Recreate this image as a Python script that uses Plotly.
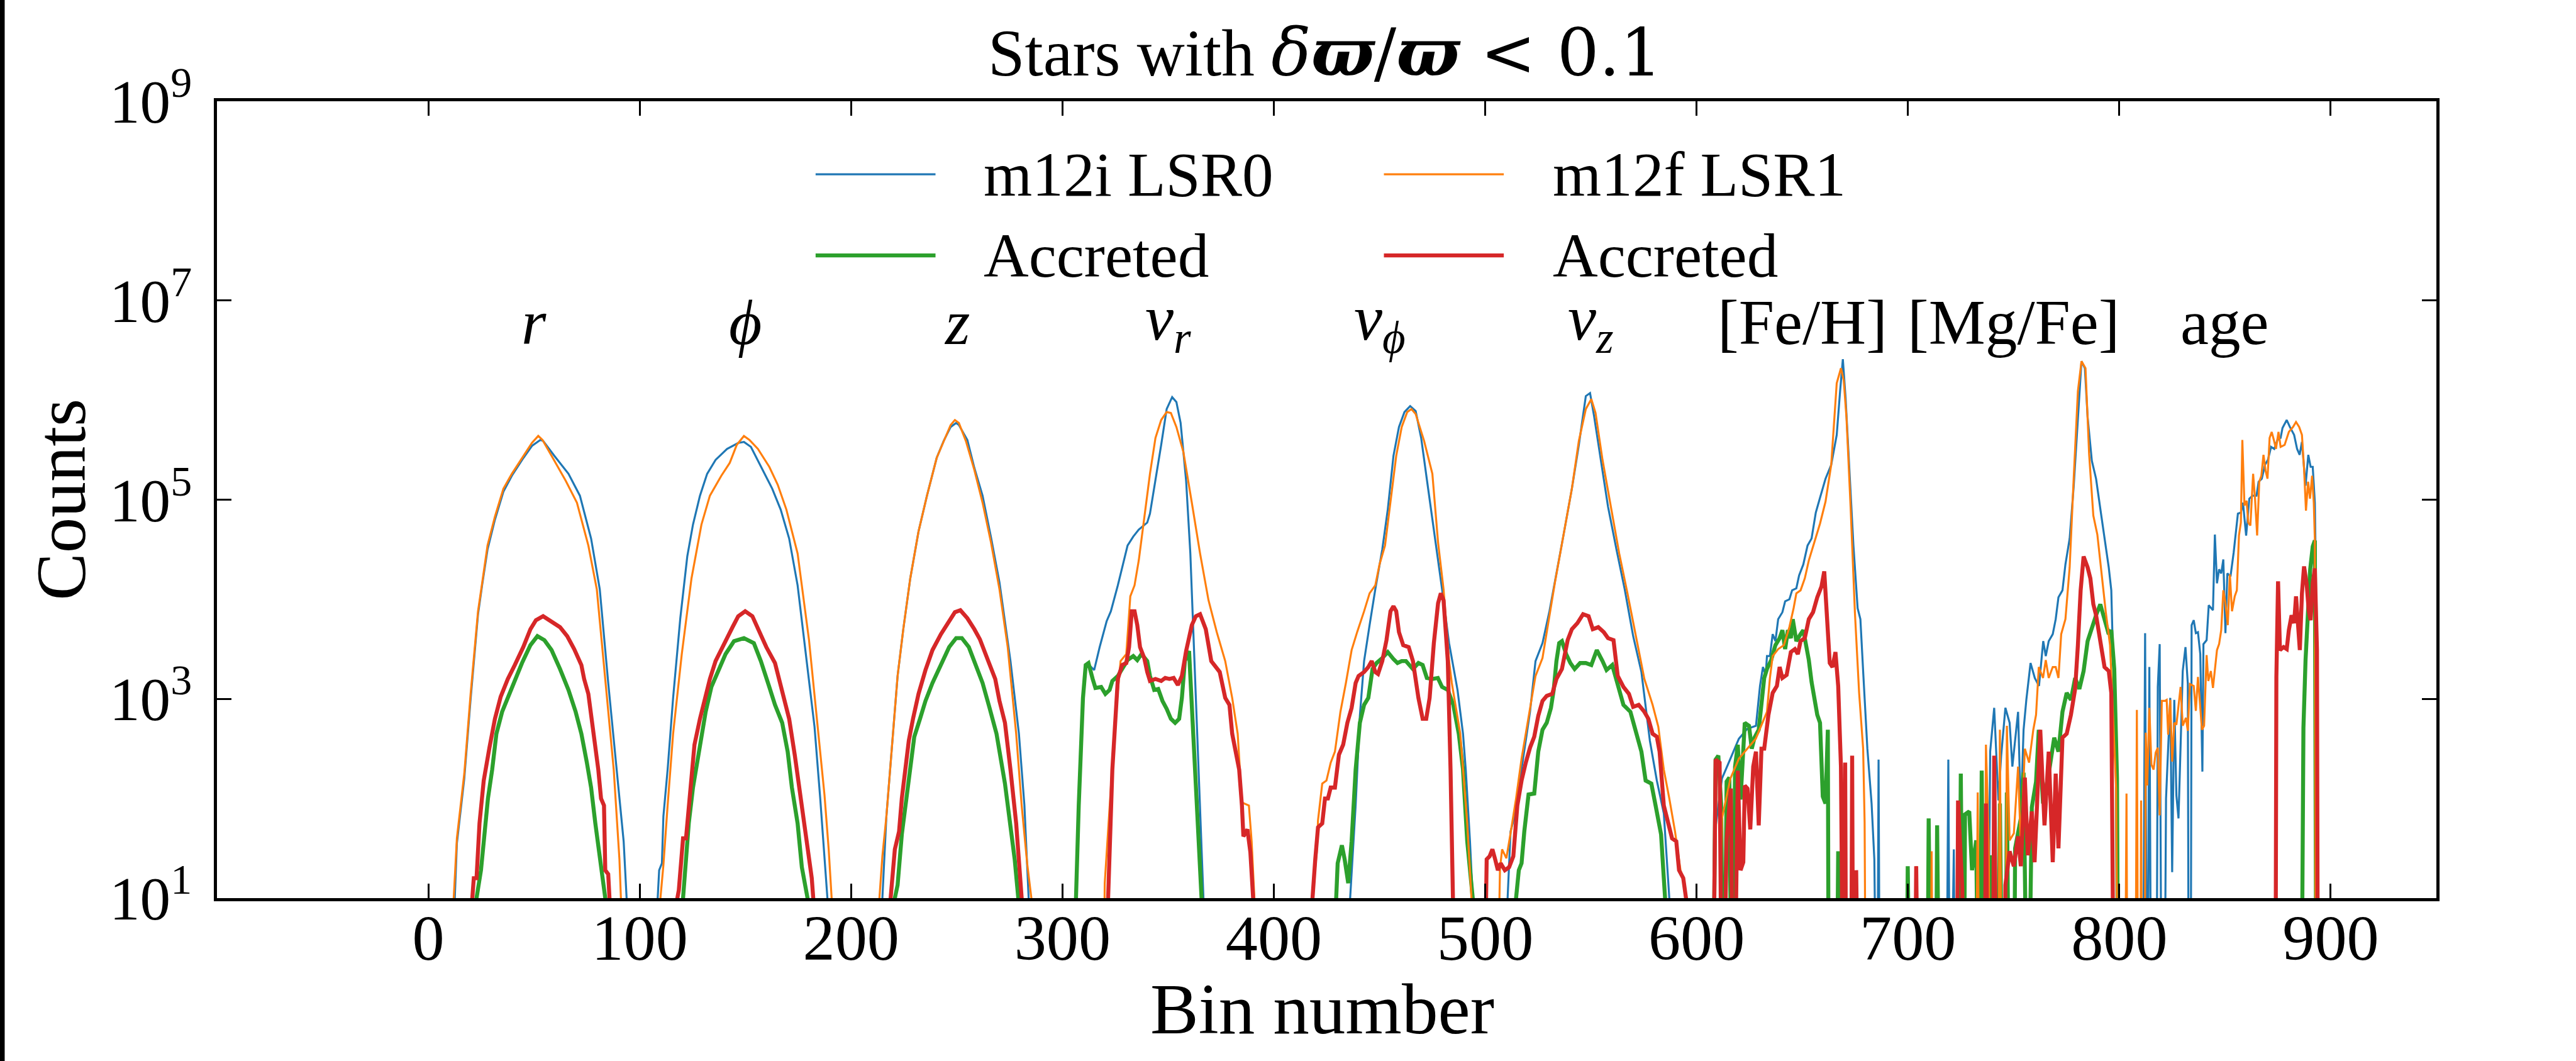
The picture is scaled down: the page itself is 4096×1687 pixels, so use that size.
import plotly.graph_objects as go

# ---------------------------------------------------------------------------
# Histogram counts per bin, as (bin number, log10 counts); None = empty bin.
# Each block of ~100 bins is one variable: r, phi, z, v_r, v_phi, v_z,
# [Fe/H], [Mg/Fe], age.
# ---------------------------------------------------------------------------
M12I_ALL = [
    # r
    (11, None), (12.5, 1.0), (13.5, 1.55), (17, 2.2), (20, 3.0), (23.5, 3.85), (25.5, 4.15), (28, 4.5),
    (31.5, 4.8), (35.5, 5.08), (39.5, 5.24), (45, 5.42), (49, 5.54), (53, 5.60), (54.3, 5.59), (59.6, 5.44),
    (66.3, 5.26), (71.7, 5.04), (77, 4.61), (81.1, 4.10), (85.1, 3.16), (89.1, 2.29), (92.4, 1.57), (93.8, 1.0), (95, None),
    # phi
    (107, None), (108.5, 1.0), (109.2, 1.28), (110.5, 1.35), (111.2, 1.82), (113.2, 2.29), (115.8, 3.01), (119.2, 3.81),
    (122.5, 4.43), (125.2, 4.75), (128.5, 5.04), (131.9, 5.26), (135.9, 5.40), (141.3, 5.51), (146.6, 5.57), (149.3, 5.58),
    (152.6, 5.53), (157.3, 5.33), (162.7, 5.11), (166.7, 4.90), (170.7, 4.61), (174.7, 4.14), (178.7, 3.45), (182.7, 2.72),
    (185.4, 2.00), (187.4, 1.39), (188.8, 1.0), (190, None),
    # z
    (213.5, None), (214.8, 1.0), (216.7, 1.82), (219.4, 2.54), (222, 3.23), (224.7, 3.70), (228, 4.21), (231.9, 4.68),
    (235.9, 5.04), (240.5, 5.42), (243.8, 5.59), (247.1, 5.73), (249.7, 5.77), (251, 5.75), (255, 5.60), (258.3, 5.32),
    (262.2, 5.04), (266.2, 4.62), (270.2, 4.17), (275.4, 3.38), (279.4, 2.65), (282, 1.93), (284, 1.0), (285, None),
    # v_r
    (305, None), (306.4, 1.0), (307.7, 1.93), (309.7, 3.01), (311, 3.34), (311.7, 3.36), (315, 3.29), (317.6, 3.52),
    (320.9, 3.78), (322.9, 3.88), (326.2, 4.14), (330.8, 4.54), (333.5, 4.63), (336.1, 4.70), (340.1, 4.77), (341.4, 4.86),
    (344, 5.19), (346.7, 5.55), (349.3, 5.91), (351.9, 6.03), (353.9, 5.98), (355.9, 5.77), (358.5, 5.19), (360.5, 4.46),
    (361.8, 3.74), (363.1, 3.01), (364.5, 2.29), (365.8, 1.57), (366.7, 1.0), (368, None),
    # v_phi
    (435, None), (436.1, 1.0), (438.7, 1.93), (440.7, 2.83), (442.7, 3.38), (445.3, 3.74), (448, 4.10), (451.3, 4.50),
    (453.9, 4.90), (456.6, 5.44), (459.2, 5.73), (461.8, 5.88), (464.5, 5.94), (467.1, 5.89), (469.7, 5.62), (473, 5.11),
    (476.3, 4.61), (479.6, 4.10), (482.9, 3.56), (486.9, 3.09), (489.5, 2.65), (490.8, 2.29), (492.8, 1.57), (494.1, 1.0), (495, None),
    # v_z
    (509.5, None), (510.6, 1.0), (512, 1.67), (513.9, 1.82), (515.9, 2.11), (518.5, 2.47), (521.2, 2.87), (523.8, 3.38),
    (527.1, 3.56), (530.4, 3.88), (533, 4.17), (537, 4.64), (541, 5.11), (544.3, 5.55), (547.6, 6.04), (549.6, 6.07),
    (551.5, 5.84), (554.8, 5.37), (558.1, 4.93), (562.1, 4.50), (566, 4.10), (570, 3.63), (573.9, 3.27), (577.9, 2.58),
    (581.2, 2.18), (584.5, 1.85), (587.1, 1.0), (588, None),
    # [Fe/H]
    (607, None), (608.3, 1.6), (612, 2.2), (616, 2.4), (620, 2.6), (624, 2.7), (628.1, 2.73), (630, 3.13), (631.4, 3.32),
    (632.7, 3.24), (633.3, 3.43), (634.7, 3.43), (636, 3.65), (637.3, 3.58), (638.6, 3.80), (640.6, 3.87), (641.9, 3.98),
    (643.9, 4.00), (645.2, 4.09), (647.2, 4.11), (648.5, 4.24), (650.5, 4.35), (652.5, 4.54), (654.4, 4.61), (656.4, 4.87),
    (658.4, 5.02), (661, 5.21), (663.7, 5.35), (666.3, 5.65), (667.9, 6.09), (669.2, 6.41), (670.5, 6.02), (672.3, 5.28),
    (674.2, 4.54), (676.2, 3.91), (677.5, 3.80), (678.9, 3.24), (680.8, 2.50), (682.8, 1.95), (684.1, 1.39), (685.4, None),
    (686.1, 2.39), (686.8, None),
    # [Mg/Fe]
    (718, None), (719.1, 2.39), (720, None), (721.7, 1.49), (722.5, None), (737.5, None), (738.9, 2.47), (740.8, 2.91),
    (742.8, 1.98), (744.1, 2.43), (746.1, 2.91), (748.1, 2.76), (749.4, 2.32), (752.1, 2.87), (753.4, 1.84), (754.7, 2.69),
    (756, 2.99), (758, 3.36), (760, 3.21), (762, 3.13), (764, 3.58), (765.2, 3.43), (766.6, 3.58), (768.5, 3.65),
    (769.9, 3.80), (771.2, 4.02), (773.1, 4.09), (774.5, 4.35), (776.5, 4.61), (778.4, 5.13), (780.4, 5.83), (782.1, 6.39),
    (783.7, 6.32), (785, 5.83), (787, 5.39), (789, 5.21), (791, 4.91), (793, 4.61), (795, 4.32), (796.2, 4.09),
    (797.6, 2.9), (798.5, 2.2), (799, None),
    # age
    (811, None), (812.2, 3.66), (813.2, None), (814.2, 3.32), (815.2, None), (817.5, None), (818.2, 3.12), (819.1, 3.55),
    (820.1, None), (821.2, None), (822.1, 2.00), (824.1, 3.01), (825, 1.26), (826, 2.99), (827, 2.03), (828, 1.80),
    (830, 3.28), (831.3, 3.52), (832.4, 3.15), (832.9, None), (833.7, None), (834.2, 3.74), (835.2, 3.79), (836.2, 3.66),
    (837.2, 3.67), (838.3, 3.45), (839.3, 2.27), (839.8, 3.55), (841.3, 3.59), (842.3, 3.94), (844.3, 3.89), (845.2, 4.65),
    (846.2, 4.16), (847.2, 4.30), (848.2, 4.26), (849.2, 4.40), (850.2, 3.66), (851.1, 4.26), (852.6, 4.23), (854.1, 4.47),
    (856.1, 4.86), (857.5, 4.87), (858.5, 4.97), (860, 4.64), (861.5, 5.01), (863, 5.04), (864.9, 5.04), (865.9, 5.18),
    (867.4, 5.21), (868.9, 5.35), (870.3, 5.40), (871.8, 5.53), (873.3, 5.51), (874.8, 5.60), (876.3, 5.62), (877.2, 5.72),
    (879.2, 5.80), (880.7, 5.73), (882.7, 5.65), (884.1, 5.51), (885.3, 5.45), (886.4, 5.58), (888.1, 5.14), (889.4, 5.45),
    (890.5, 5.33), (891.5, 5.33), (892.5, 4.97), (893, 4.23), (893.5, None),
]

M12I_ACCRETED = [
    # r
    (21.5, None), (22.8, 1.0), (24.9, 1.28), (26.2, 1.57), (28.2, 2.00), (30.2, 2.29), (32.2, 2.65), (34.9, 2.87),
    (37.6, 3.01), (40.9, 3.18), (44.3, 3.36), (48.3, 3.54), (51.6, 3.63), (54.9, 3.59), (58.3, 3.49), (62.3, 3.30),
    (66.3, 3.09), (69.7, 2.87), (72.4, 2.65), (75, 2.36), (77, 2.11), (79, 1.75), (81.1, 1.42), (82.4, 1.17), (83.7, 1.0), (85, None),
    # phi
    (119.5, None), (120.5, 1.0), (121.9, 1.39), (123.2, 1.75), (125.2, 2.11), (127.2, 2.36), (129.2, 2.62), (131.2, 2.87),
    (133.9, 3.12), (137.3, 3.30), (140.6, 3.45), (144.6, 3.58), (149.3, 3.61), (154, 3.56), (157.3, 3.38), (161.3, 3.12),
    (164, 2.94), (167.4, 2.76), (170, 2.47), (172, 2.11), (174.7, 1.75), (176.7, 1.31), (178.7, 1.06), (179.4, 1.0), (180.5, None),
    # z
    (219.5, None), (220.7, 1.0), (222, 1.13), (224, 1.64), (226, 2.00), (228, 2.36), (229.9, 2.62), (232.6, 2.80),
    (235.2, 2.98), (238.5, 3.16), (242.5, 3.34), (246.4, 3.52), (249.7, 3.61), (252.4, 3.61), (255.7, 3.52), (258.9, 3.34),
    (262.2, 3.16), (265.5, 2.91), (268.8, 2.65), (272.8, 2.15), (275.4, 1.75), (277.4, 1.39), (279.1, 1.0), (280.5, None),
    # v_r
    (305, None), (306.4, 1.0), (307.7, 1.93), (309.7, 3.01), (311, 3.34), (312.3, 3.36), (314.3, 3.20), (315.6, 3.11),
    (318.3, 3.12), (320.3, 3.05), (322.3, 3.09), (323.6, 3.18), (326.2, 3.23), (328.2, 3.30), (330.8, 3.39), (333.5, 3.43),
    (335.4, 3.39), (337.4, 3.45), (340.1, 3.38), (341.4, 3.23), (343.4, 3.09), (345.3, 3.10), (347.3, 2.98), (349.3, 2.90),
    (351.3, 2.80), (353.3, 2.76), (355.2, 2.80), (356.5, 3.01), (357.9, 3.38), (359.9, 3.48), (361.8, 2.65), (363.8, 1.75),
    (365.8, 1.0), (367, None),
    # v_phi
    (428.5, None), (429.5, 1.0), (430.2, 1.35), (432.2, 1.53), (433.5, 1.39), (435.2, 1.15), (436.8, 1.57), (438.7, 2.29),
    (440.7, 2.76), (442.7, 2.94), (444.7, 3.01), (446.7, 3.30), (448.6, 3.36), (451.3, 3.41), (453.9, 3.47), (456.6, 3.40),
    (458.5, 3.36), (460.5, 3.38), (462.5, 3.38), (465.8, 3.30), (468.4, 3.36), (470.4, 3.34), (472.4, 3.21), (475, 3.20),
    (477.6, 3.21), (479.6, 3.12), (482.3, 3.09), (484.9, 2.94), (487.5, 2.65), (489.5, 2.29), (491.5, 1.57), (494.1, 1.0), (495.5, None),
    # v_z
    (513.5, None), (514.6, 1.0), (515.9, 1.28), (517.2, 1.35), (518.5, 1.67), (520.5, 2.04), (523.2, 2.05), (525.1, 2.47),
    (527.1, 2.69), (529.1, 2.76), (531.1, 2.91), (532.4, 3.09), (533.7, 3.38), (535, 3.56), (536.3, 3.58), (538.3, 3.45),
    (540.3, 3.36), (542.3, 3.30), (544.9, 3.36), (547.6, 3.36), (550.2, 3.34), (552.8, 3.49), (555.5, 3.38), (557.4, 3.29),
    (560.1, 3.34), (562.7, 3.16), (565.4, 2.94), (568.7, 2.87), (571.3, 2.65), (573.9, 2.47), (575.9, 2.18), (578.6, 2.15),
    (580.6, 1.93), (583.2, 1.64), (584.5, 1.20), (585.1, 1.0), (586.5, None),
    # [Fe/H]
    (607.5, None), (609, 2.39), (610.3, 2.43), (611.6, 1.95), (612.9, None), (614.2, 2.17), (615.5, 2.21), (616.9, None),
    (618.2, 2.32), (619.5, 2.54), (620.8, 1.99), (622.8, 2.76), (624.8, 2.73), (626.1, 2.50), (627.4, 2.61), (629.4, 2.69),
    (630.7, 2.99), (632, 3.21), (633.3, 3.30), (635.3, 3.39), (637.3, 3.54), (639.3, 3.61), (640.6, 3.69), (641.9, 3.50),
    (643.2, 3.69), (644.6, 3.61), (645.5, 3.80), (647.2, 3.58), (649.2, 3.65), (650.5, 3.69), (651.8, 3.54), (653.1, 3.39),
    (654.4, 3.17), (655.8, 3.02), (657.1, 2.84), (658.4, 2.76), (659.7, 2.02), (661, 1.95), (662.1, 2.69), (662.6, None),
    (666, None), (667, 1.47), (668.3, None),
    # [Mg/Fe]
    (699, None), (699.9, 1.32), (701.3, None), (709, None), (709.8, 1.80), (711.2, None), (713, None), (713.8, 1.73),
    (715.1, None), (724, None), (725, 2.25), (726.3, None), (727, 1.84), (729, 1.87), (730.3, 1.28), (732.3, 1.58),
    (733.6, None), (734.9, 2.28), (736.2, None), (738, None), (738.9, 1.43), (740, None), (742.5, None), (743.5, 1.95),
    (745, None), (746, None), (746.8, 2.06), (748.1, None), (750, None), (750.7, 1.50), (753.4, 1.80), (754.7, 2.26),
    (756.7, None), (758.6, 1.91), (760.6, 2.17), (761.9, 2.69), (763.9, 1.95), (766.6, 2.25), (769.2, 2.61), (771.2, 2.47),
    (773.1, 2.87), (775.1, 3.06), (777.1, 2.99), (779.1, 3.21), (781.1, 3.10), (783.1, 3.28), (785, 3.58), (787, 3.72),
    (789, 3.84), (791, 3.95), (793, 3.80), (795, 3.65), (796.2, 3.69), (797.6, 3.3), (798.9, 2.2), (799.6, None),
    # age
    (886, None), (886.6, 1.0), (887.1, 2.71), (888.1, 3.39), (889.1, 3.89), (890.3, 4.30), (891.5, 4.53), (892.5, 4.59),
    (893.3, None),
]

M12F_ALL = [
    # r
    (10.5, None), (12, 1.0), (13.5, 1.6), (17, 2.25), (20, 3.05), (23.5, 3.88), (25.5, 4.17), (28, 4.54), (31.5, 4.83),
    (35.5, 5.11), (39.5, 5.26), (45, 5.44), (49, 5.57), (52, 5.64), (54, 5.60), (58.3, 5.44), (65, 5.19), (70.3, 4.97),
    (75.7, 4.54), (79.7, 4.10), (83.7, 3.20), (87.7, 2.29), (90.4, 1.39), (91.1, 1.0), (92, None),
    # phi
    (108.5, None), (109.8, 1.0), (111.2, 1.33), (113.2, 1.93), (115.8, 2.65), (119.9, 3.45), (124.5, 4.21), (129.2, 4.75),
    (133.2, 5.04), (138.6, 5.24), (142.6, 5.37), (145.9, 5.55), (149.3, 5.64), (151.9, 5.60), (155.9, 5.51), (161.3, 5.33),
    (165.3, 5.15), (169.4, 4.90), (174.7, 4.46), (180.1, 3.59), (184.1, 2.72), (187.4, 2.04), (189.4, 1.49), (190.8, 1.0), (192, None),
    # z
    (212, None), (213.4, 1.0), (214.8, 1.42), (216.7, 1.82), (219.4, 2.54), (222, 3.23), (224.7, 3.70), (228, 4.21),
    (231.9, 4.68), (235.9, 5.04), (240.5, 5.42), (243.8, 5.59), (247.1, 5.75), (249.1, 5.80), (251, 5.77), (254.3, 5.59),
    (258.3, 5.30), (262.2, 4.97), (266.2, 4.57), (270.2, 4.10), (274.1, 3.52), (278.1, 2.65), (280.7, 1.93), (283.3, 1.35),
    (285.3, 1.0), (286.5, None),
    # v_r
    (319, None), (320, 1.15), (322, 1.8), (325, 2.8), (327.5, 3.38), (330.2, 3.45), (332.1, 4.03), (334.1, 4.14),
    (336.1, 4.39), (338.7, 4.83), (341.4, 5.26), (344, 5.62), (346.7, 5.80), (349.3, 5.88), (351.3, 5.87), (353.9, 5.73),
    (357.2, 5.48), (361.2, 4.97), (365.1, 4.46), (369.1, 3.99), (373, 3.67), (377, 3.38), (380.3, 3.01), (382.9, 2.65),
    (384.9, 1.96), (388.2, 1.93), (389.5, 1.57), (390.8, 1.0), (392, None),
    # v_phi
    (417, None), (418.3, 1.0), (420.3, 1.46), (420.9, 1.78), (422.9, 2.15), (424.9, 2.18), (426.9, 2.36), (428.9, 2.47),
    (431.5, 2.87), (434.1, 3.16), (436.8, 3.49), (439.4, 3.67), (442.7, 3.88), (445.3, 4.06), (448, 4.14), (450, 4.35),
    (452.6, 4.54), (455.2, 4.97), (457.9, 5.44), (460.5, 5.73), (463.1, 5.88), (465.1, 5.91), (467.1, 5.86), (471.1, 5.59),
    (475, 5.26), (477.7, 4.57), (480.3, 4.10), (482.9, 3.38), (484.2, 3.16), (488.2, 2.65), (491.5, 1.75), (493.5, 1.0), (494.5, None),
    # v_z
    (505, None), (507, 1.3), (508, 1.49), (510, 1.40), (511.9, 1.64), (514.6, 2.00), (517.2, 2.40), (520.5, 2.83),
    (523.8, 3.23), (527.1, 3.41), (529.7, 3.74), (533, 4.17), (537, 4.64), (541, 5.11), (544.3, 5.59), (547.6, 5.91),
    (550.2, 6.01), (552.2, 5.87), (555.5, 5.40), (559.4, 4.93), (563.4, 4.46), (567.3, 4.06), (571.3, 3.63), (575.3, 3.20),
    (579.2, 2.94), (581.9, 2.72), (584.5, 2.29), (587.1, 2.00), (589.8, 1.67), (592.4, 1.28), (593.7, 1.20), (595, 1.0), (596, None),
    # [Fe/H]
    (610, None), (612, 1.8), (616, 2.2), (620, 2.4), (624, 2.5), (628, 2.6), (633.3, 2.87), (634.7, 3.21), (636, 3.43),
    (638.6, 3.50), (641.3, 3.54), (643.9, 3.72), (645.9, 3.91), (647.2, 4.06), (649.2, 4.09), (651.2, 4.21), (653.1, 4.39),
    (655.8, 4.58), (658.4, 4.76), (661, 4.98), (663.7, 5.35), (666.3, 6.17), (668.3, 6.32), (669.6, 6.20), (670.9, 5.83),
    (672.9, 4.91), (674.9, 3.87), (676.9, 3.06), (678.8, 2.50), (679.5, 1.76), (680.2, None),
    # [Mg/Fe]
    (703, None), (704, 1.32), (705, None), (710.5, None), (711.2, 1.47), (712, None), (732, None), (733, 2.06), (734, None),
    (736, None), (736.9, 2.54), (738.2, 1.58), (739, None), (742.5, None), (743.5, 2.69), (744.5, None), (746, None),
    (746.8, 2.73), (748.1, 1.58), (750.1, 1.65), (752.1, 2.32), (753.4, 1.50), (755.3, 2.50), (757.3, 2.36), (759.3, 2.69),
    (760.6, 2.84), (761.9, 3.32), (763.9, 3.21), (765.2, 3.39), (766.6, 3.21), (768.5, 3.32), (769.9, 3.32), (771.2, 3.21),
    (772.5, 3.65), (774.5, 3.80), (776.5, 4.32), (778.4, 5.21), (780.4, 6.09), (782.1, 6.39), (784, 6.32), (785.7, 5.46),
    (787.7, 4.84), (789.6, 4.65), (791.6, 4.24), (793.6, 3.87), (795.6, 3.54), (797.6, 2.6), (798.5, 2.1), (799.4, None),
    # age
    (802.5, None), (803.4, 2.05), (804, None), (807.5, None), (808.3, 2.89), (809, None), (809.8, None), (810.3, 1.98),
    (810.8, None), (811.8, None), (812.5, 2.66), (813.2, 2.13), (814.2, 2.91), (815.2, 2.34), (816.2, 2.29), (817.2, 2.46),
    (818.2, 2.51), (819.1, 1.83), (820.1, 2.98), (821.6, 2.98), (822.4, 2.99), (823.1, 2.64), (824.1, 2.99), (825, 2.37),
    (826, 2.76), (827, 2.74), (828, 2.95), (829, 3.12), (830, 2.73), (831.5, 2.81), (832.4, 2.68), (833.4, 3.15),
    (835.2, 3.13), (836.2, 2.88), (837.2, 3.22), (838.1, 2.98), (839.1, 2.69), (840.1, 2.73), (841.3, 3.44), (842.1, 3.18),
    (843.3, 3.28), (844.3, 3.11), (845.2, 3.28), (846.2, 3.49), (847.2, 3.55), (848.2, 3.69), (849.2, 4.09), (850.2, 3.96),
    (851.3, 3.74), (852.3, 4.25), (853.3, 3.88), (854.6, 4.03), (855.6, 4.09), (856.6, 4.64), (857.5, 4.77), (858.2, 5.60),
    (859.2, 4.94), (860.2, 4.99), (861, 4.77), (862, 4.74), (863.3, 5.26), (864.2, 5.01), (865.2, 4.64), (866.2, 5.18),
    (867.2, 5.24), (868.2, 5.45), (869.2, 5.29), (870.1, 5.21), (871.1, 5.62), (872.1, 5.68), (873.1, 5.60), (874.1, 5.51),
    (875.3, 5.68), (876.3, 5.53), (878.2, 5.55), (880.2, 5.68), (882.2, 5.73), (883.6, 5.78), (885.1, 5.73), (886.4, 5.65),
    (887.4, 5.31), (888.3, 4.89), (889.3, 5.18), (890.2, 5.01), (891.2, 5.24), (892, 4.97), (892.5, 4.60), (893, None),
]

M12F_ACCRETED = [
    # r
    (19.5, None), (20.8, 1.0), (21.5, 1.20), (22.8, 1.20), (24.2, 1.75), (26.2, 2.18), (28.9, 2.51), (31.5, 2.80),
    (34.2, 3.02), (37.6, 3.20), (40.9, 3.34), (44.9, 3.52), (48.3, 3.70), (50.9, 3.79), (54.3, 3.83), (58.3, 3.78),
    (62.3, 3.72), (65.7, 3.63), (69, 3.50), (72.4, 3.34), (73.7, 3.20), (75.7, 3.05), (77, 2.83), (79, 2.54), (80.4, 2.29),
    (81.7, 2.00), (83.1, 1.93), (83.7, 1.28), (85.1, 1.24), (85.7, 1.0), (87, None),
    # phi
    (117, None), (117.8, 1.0), (118.5, 1.08), (120.5, 1.60), (121.9, 1.60), (123.9, 2.11), (125.9, 2.54), (128.5, 2.80),
    (130.6, 2.98), (133.2, 3.20), (135.9, 3.38), (139.9, 3.56), (143.9, 3.72), (146.6, 3.83), (149.9, 3.88), (153.3, 3.83),
    (155.9, 3.70), (159.9, 3.52), (164, 3.36), (168, 3.01), (170.7, 2.80), (173.4, 2.43), (176.7, 1.93), (178.7, 1.57),
    (181.4, 1.20), (182.1, 1.0), (183.5, None),
    # z
    (217.5, None), (218.7, 1.0), (220.7, 1.49), (222.7, 1.67), (224, 2.00), (225.3, 2.22), (227.3, 2.58), (229.3, 2.80),
    (231.9, 3.05), (235.2, 3.29), (238.5, 3.49), (242.5, 3.65), (246.4, 3.77), (249.1, 3.87), (251.7, 3.89), (255, 3.81),
    (258.3, 3.70), (260.9, 3.60), (264.9, 3.38), (268.2, 3.20), (270.2, 2.98), (272.8, 2.76), (275.4, 2.29), (278.1, 1.75),
    (280.7, 1.0), (282, None),
    # v_r
    (320.5, None), (321.6, 1.0), (323.6, 2.29), (326.2, 3.20), (328.2, 3.34), (330.2, 3.36), (331.5, 3.52), (332.8, 3.88),
    (334.1, 3.88), (335.4, 3.74), (336.7, 3.52), (338.7, 3.41), (340.1, 3.27), (341.4, 3.18), (344, 3.20), (346.7, 3.18),
    (348.6, 3.21), (350.6, 3.20), (352.6, 3.21), (354.6, 3.14), (356.5, 3.23), (358.5, 3.48), (361.2, 3.74), (363.1, 3.83),
    (365.1, 3.85), (367.8, 3.70), (370.4, 3.38), (372.4, 3.32), (374.4, 3.27), (377, 3.01), (379, 2.94), (380.3, 2.65),
    (382.3, 2.44), (383.6, 2.29), (384.9, 1.93), (385.6, 1.62), (387.5, 1.69), (388.9, 1.46), (390.2, 1.0), (391.5, None),
    # v_phi
    (417, None), (418.3, 1.0), (419.6, 1.39), (420.9, 1.71), (422.9, 1.75), (424.2, 2.00), (425.6, 2.00), (426.9, 2.11),
    (428.9, 2.11), (430.8, 2.44), (432.8, 2.54), (434.8, 2.76), (436.8, 2.91), (438.7, 3.16), (440.1, 3.23), (442.7, 3.27),
    (444.7, 3.32), (446.3, 3.38), (448, 3.27), (449.3, 3.25), (451.3, 3.38), (453.3, 3.59), (455.2, 3.88), (456.6, 3.93),
    (457.9, 3.88), (459.2, 3.67), (461.2, 3.54), (463.8, 3.52), (465.8, 3.38), (468.4, 3.01), (470.4, 2.80), (472.1, 2.80),
    (473.7, 3.01), (475.7, 3.56), (477.7, 3.96), (479, 4.06), (480.3, 3.99), (482.3, 3.38), (483.6, 2.29), (485.3, 1.0), (486.5, None),
    # v_z
    (499, None), (500.1, 1.0), (500.7, 1.39), (502.1, 1.42), (503.4, 1.49), (504.7, 1.39), (506, 1.28), (507.3, 1.35),
    (509.3, 1.28), (511.3, 1.31), (513.3, 1.42), (515.2, 1.93), (517.2, 2.18), (519.2, 2.36), (521.2, 2.51), (523.2, 2.62),
    (525.1, 2.83), (527.1, 2.98), (529.1, 3.03), (531.7, 3.05), (533.7, 3.20), (536.3, 3.30), (539, 3.59), (541, 3.70),
    (543.6, 3.76), (546.3, 3.85), (548.9, 3.83), (550.9, 3.70), (553.5, 3.72), (556.1, 3.67), (558.1, 3.61), (560.7, 3.59),
    (562.7, 3.23), (565.4, 3.12), (568, 3.05), (570, 2.92), (572.6, 2.94), (575.3, 2.87), (577.2, 2.80), (579.2, 2.65),
    (581.2, 2.62), (582.5, 2.47), (584.5, 1.93), (585.8, 1.82), (588.4, 1.60), (590.4, 1.57), (591.7, 1.28), (593.7, 1.20),
    (595, 1.0), (596, None),
    # [Fe/H]
    (607.5, None), (609, 2.39), (610.9, 2.36), (612.2, None), (614.2, 1.58), (616.2, 2.10), (617.5, None), (619.5, 2.28),
    (620.8, 1.28), (622.1, 1.36), (622.8, 2.13), (624.1, 2.10), (625.4, 1.69), (626.8, 2.32), (628.1, 2.47), (629.4, 1.73),
    (630.7, 2.50), (632, 2.50), (634, 2.84), (636, 3.06), (638, 3.13), (639.3, 3.32), (640.6, 3.21), (642.6, 3.24),
    (644.6, 3.47), (646.5, 3.50), (647.9, 3.45), (649.2, 3.58), (651.2, 3.61), (653.1, 3.80), (655.1, 3.87), (657.1, 4.02),
    (659.1, 4.13), (660.4, 4.28), (661.7, 3.87), (663, 3.36), (664.3, 3.32), (665.7, 3.47), (667, 3.13), (668.3, 2.32),
    (669.6, None), (670.3, 2.36), (670.9, None), (673, None), (673.6, 2.43), (674.2, None), (675, None), (675.5, 1.28),
    (676.9, None),
    # [Mg/Fe]
    (703, None), (703.9, 1.32), (705.2, None), (723, None), (723.7, 1.98), (725.7, 1.09), (726.3, None), (736, None),
    (736.9, 1.95), (738.2, None), (740, None), (740.8, 2.43), (742.2, None), (745.5, None), (746.1, 1.13), (748.1, 1.47),
    (750.1, 1.32), (752.1, 1.62), (753.4, 1.32), (755.3, 2.21), (756.7, 1.43), (758.6, 1.87), (759.9, 1.36), (762.6, 2.69),
    (764.6, 1.73), (766.6, 2.47), (768.5, 1.36), (769.9, 2.25), (771.2, 1.50), (773.1, 2.61), (775.1, 2.65), (777.1, 2.84),
    (779.1, 3.10), (780.4, 3.54), (781.7, 4.09), (783.1, 4.43), (785, 4.32), (786.3, 4.21), (787.7, 3.95), (789, 3.84),
    (790.3, 3.65), (791.6, 3.50), (793, 3.32), (795, 3.28), (796.2, 3.06), (797.6, None),
    # age
    (873.8, None), (874.3, 3.22), (875.1, 4.18), (876, 3.49), (877.7, 3.52), (879.2, 3.50), (880.2, 3.69), (881.5, 3.84),
    (882.7, 3.76), (883.6, 4.03), (884.4, 3.76), (885.4, 3.49), (886.4, 4.06), (887.4, 4.33), (888.6, 4.16), (889.6, 3.89),
    (890.5, 3.79), (891.5, 4.16), (892.5, 4.31), (893.5, 3.49), (894, None),
]

# Series styling: (name, data, colour, thick)
SERIES = [
    ("m12i LSR0", M12I_ALL, "#1f77b4", False),
    ("Accreted", M12I_ACCRETED, "#2ca02c", True),
    ("m12f LSR1", M12F_ALL, "#ff7f0e", False),
    ("Accreted", M12F_ACCRETED, "#d62728", True),
]

VARIABLE_LABELS = ["<i>r</i>", "<i>ϕ</i>", "<i>z</i>", "<i>v</i><sub><i>r</i></sub>", "<i>v</i><sub><i>ϕ</i></sub>",
                   "<i>v</i><sub><i>z</i></sub>", "[Fe/H]", "[Mg/Fe]", "age"]
VARIABLE_CENTRES = [50, 150, 250, 350, 450, 550, 650, 750, 850]

X_TICKS = [0, 100, 200, 300, 400, 500, 600, 700, 800, 900]
Y_TICKS = [1e1, 1e3, 1e5, 1e7, 1e9]
Y_TICK_TEXT = ["10<sup>1</sup>", "10<sup>3</sup>", "10<sup>5</sup>", "10<sup>7</sup>", "10<sup>9</sup>"]

# ---------------------------------------------------------------------------
FONT = "Liberation Serif"
MATH_FONT = "DejaVu Serif"
S = 0.993                      # overall drawing scale
WIDTH, HEIGHT = 4096, 1687
ML, MR, MT, MB = 345, 222, 161, 259
PW, PH = WIDTH - ML - MR, HEIGHT - MT - MB
EMPTY_FLOOR = 0.1              # empty bins are drawn below the axis floor
THIN, THICK = 3.2 * S, 6.4 * S


def px(xr):
    """Horizontal position (unscaled page pixels) -> paper fraction."""
    return (xr * S - ML) / PW


def py(yr):
    """Vertical position (unscaled page pixels) -> paper fraction."""
    return 1 - (yr * S - MT) / PH


fig = go.Figure()
for name, pairs, colour, thick in SERIES:
    xs = [b for b, _ in pairs]
    ys = [EMPTY_FLOOR if v is None else 10 ** v for _, v in pairs]
    fig.add_trace(go.Scatter(
        x=xs, y=ys, mode="lines", name=name, showlegend=False,
        line=dict(color=colour, width=THICK if thick else THIN),
    ))

annotations = []
# variable labels above each block of bins
for lab, xc in zip(VARIABLE_LABELS, VARIABLE_CENTRES):
    annotations.append(dict(x=xc, y=6.78, xref="x", yref="y", text=lab, showarrow=False,
                            xanchor="center", yanchor="middle",
                            font=dict(family=FONT, size=102 * S, color="black")))

# title and axis titles
VARPI = "<b><i>ϖ</i></b>"
TITLE_MATH = ("<span style='font-family:" + MATH_FONT + "'><i>δ</i>" + VARPI + "/" + VARPI
              + " &lt; 0.1</span>")
annotations.append(dict(x=px(2122), y=py(84), xref="paper", yref="paper", showarrow=False,
                        text="Stars with " + TITLE_MATH,
                        xanchor="center", yanchor="middle",
                        font=dict(family=FONT, size=106 * S, color="black")))
annotations.append(dict(x=px(2117), y=py(1615), xref="paper", yref="paper", showarrow=False,
                        text="Bin number", xanchor="center", yanchor="middle",
                        font=dict(family=FONT, size=116 * S, color="black")))
annotations.append(dict(x=px(97), y=py(800), xref="paper", yref="paper", showarrow=False,
                        text="Counts", textangle=-90, xanchor="center", yanchor="middle",
                        font=dict(family=FONT, size=114 * S, color="black")))

# legend: two columns, two rows
shapes = []
legend_rows = [279, 409]
legend_cols = [(1306, 1498, 1573), (2216, 2408, 2484)]
for i, (name, _, colour, thick) in enumerate(SERIES):
    col, row = divmod(i, 2)
    x0, x1, xt = legend_cols[col]
    yr = legend_rows[row]
    shapes.append(dict(type="line", xref="paper", yref="paper", x0=px(x0), x1=px(x1), y0=py(yr), y1=py(yr),
                       line=dict(color=colour, width=THICK if thick else THIN)))
    annotations.append(dict(x=px(xt), y=py(yr), xref="paper", yref="paper", showarrow=False,
                            text=name, xanchor="left", yanchor="middle",
                            font=dict(family=FONT, size=100 * S, color="black")))

# dark strip along the left page edge
shapes.append(dict(type="rect", xref="paper", yref="paper", x0=px(0), x1=px(7.5), y0=py(1700), y1=py(0),
                   fillcolor="black", line=dict(width=0), layer="above"))

axis_common = dict(showline=True, linecolor="black", linewidth=5.5 * S, mirror="ticks",
                   ticks="inside", ticklen=23 * S, tickwidth=3.2 * S, tickcolor="black",
                   showgrid=False, zeroline=False)

fig.update_layout(
    width=WIDTH, height=HEIGHT,
    margin=dict(l=ML, r=MR, t=MT, b=MB, pad=0),
    paper_bgcolor="white", plot_bgcolor="white",
    showlegend=False,
    xaxis=dict(range=[-100, 950], tickvals=X_TICKS, ticklabelstandoff=-30,
               tickfont=dict(family=FONT, size=103 * S, color="black"), **axis_common),
    yaxis=dict(type="log", range=[1, 9], tickvals=Y_TICKS, ticktext=Y_TICK_TEXT, ticklabelstandoff=15,
               tickfont=dict(family=FONT, size=98 * S, color="black"), **axis_common),
    annotations=annotations,
    shapes=shapes,
)

fig.write_html("out.html")
